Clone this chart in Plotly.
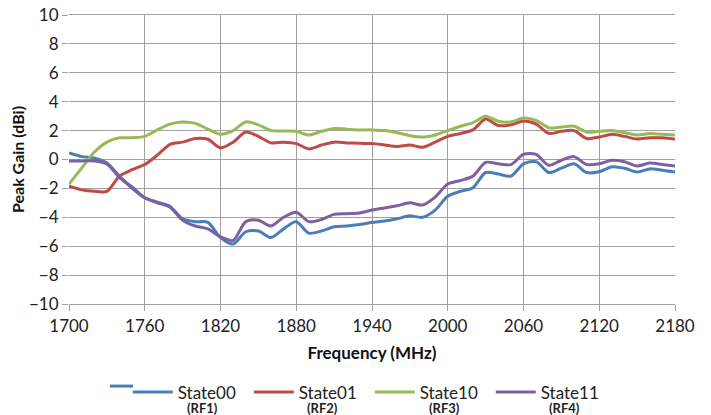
import plotly.graph_objects as go

freq = list(range(1700, 2181, 10))

state00 = [0.45, 0.2, 0.1, -0.25, -1.15, -2.0, -2.65, -2.95, -3.25, -4.1,
           -4.3, -4.35, -5.4, -5.85, -5.0, -4.95, -5.4, -4.8, -4.3, -5.1,
           -4.95, -4.65, -4.6, -4.5, -4.35, -4.25, -4.1, -3.9, -4.0, -3.5,
           -2.55, -2.2, -1.95, -0.9, -1.0, -1.15, -0.3, -0.15, -0.9, -0.6,
           -0.3, -0.9, -0.85, -0.5, -0.6, -0.87, -0.65, -0.75, -0.87]

state01 = [-1.85, -2.1, -2.2, -2.2, -1.15, -0.7, -0.35, 0.3, 1.05, 1.2,
           1.45, 1.4, 0.8, 1.2, 1.9, 1.6, 1.15, 1.2, 1.1, 0.73,
           1.0, 1.2, 1.15, 1.12, 1.1, 1.0, 0.9, 1.0, 0.85, 1.2,
           1.6, 1.8, 2.05, 2.8, 2.35, 2.4, 2.67, 2.45, 1.8, 1.95,
           2.0, 1.45, 1.55, 1.75, 1.6, 1.42, 1.5, 1.5, 1.4]

state10 = [-1.7, -0.6, 0.5, 1.2, 1.5, 1.5, 1.6, 2.05, 2.45, 2.6,
           2.5, 2.1, 1.75, 2.0, 2.6, 2.4, 2.0, 1.97, 1.95, 1.7,
           1.95, 2.15, 2.1, 2.05, 2.05, 2.0, 1.85, 1.65, 1.55, 1.7,
           2.0, 2.3, 2.55, 3.0, 2.65, 2.6, 2.87, 2.7, 2.2, 2.25,
           2.3, 1.9, 1.95, 2.0, 1.85, 1.7, 1.8, 1.75, 1.7]

state11 = [-0.1, -0.1, -0.1, -0.3, -1.25, -1.9, -2.65, -3.0, -3.3, -4.2,
           -4.6, -4.8, -5.35, -5.6, -4.3, -4.2, -4.6, -4.0, -3.65, -4.3,
           -4.15, -3.8, -3.75, -3.7, -3.5, -3.35, -3.2, -3.0, -3.15, -2.6,
           -1.7, -1.45, -1.15, -0.2, -0.3, -0.35, 0.35, 0.35, -0.4, -0.05,
           0.2, -0.35, -0.3, -0.05, -0.15, -0.45, -0.25, -0.35, -0.45]

series_names = ["State00", "State01", "State10", "State11"]
series_sub = ["(RF1)", "(RF2)", "(RF3)", "(RF4)"]
series_colors = ["#4A7EBB", "#BE4B48", "#98B954", "#7D60A0"]
x_ticks = list(range(1700, 2181, 60))
y_ticks = list(range(-10, 11, 2))

FONT = "Lato"
fig = go.Figure()
for name, vals, col in zip(series_names, [state00, state01, state10, state11], series_colors):
    fig.add_trace(go.Scatter(x=freq, y=vals, mode="lines", name=name,
                             line=dict(color=col, width=3, shape="spline", smoothing=0.8)))

grid = "#A0A0A0"
fig.update_xaxes(range=[1700, 2180], tickvals=x_ticks, showgrid=True, gridcolor=grid,
                 gridwidth=1.3, ticks="outside", ticklen=6, tickcolor=grid, tickwidth=1.3,
                 zeroline=False, showline=True, linecolor=grid, linewidth=1.3, mirror=True,
                 ticklabeloverflow="allow",
                 tickfont=dict(family=FONT, size=17, color="#222"),
                 title=dict(text="<b>Frequency (MHz)</b>", font=dict(family=FONT, size=17, color="#111"),
                            standoff=12))
fig.update_yaxes(range=[-10, 10], tickvals=y_ticks, showgrid=True, gridcolor=grid,
                 gridwidth=1.3, ticks="outside", ticklen=6, tickcolor=grid, tickwidth=1.3,
                 zeroline=False, showline=False, ticklabeloverflow="allow",
                 tickfont=dict(family=FONT, size=17, color="#222"),
                 title=dict(text="<b>Peak Gain (dBi)</b>", font=dict(family=FONT, size=16, color="#111"),
                            standoff=8))

annotations = []
for i, s in enumerate(series_sub):
    annotations.append(dict(text="<b>" + s + "</b>", xref="paper", yref="paper",
                            x=[0.221, 0.4175, 0.619, 0.818][i], y=-0.36, showarrow=False,
                            font=dict(family=FONT, size=13, color="#222"),
                            xanchor="center", yanchor="middle"))

# page body has an 8px margin, so the figure is sized/offset to compensate
fig.update_layout(
    width=703, height=407,
    margin=dict(l=61, r=36, t=7, b=111, autoexpand=False),
    paper_bgcolor="white", plot_bgcolor="white",
    showlegend=True,
    legend=dict(orientation="h", x=0.097, y=-0.306, xanchor="left", yanchor="middle",
                font=dict(family=FONT, size=17, color="#222"),
                entrywidth=66, entrywidthmode="pixels", itemwidth=40,
                bgcolor="rgba(0,0,0,0)"),
    annotations=annotations,
    shapes=[dict(type="line", xref="paper", yref="paper", x0=0.0677, x1=0.1056,
                 y0=-0.284, y1=-0.284, line=dict(color="#4A7EBB", width=3))],
)
fig.write_html("out.html")
